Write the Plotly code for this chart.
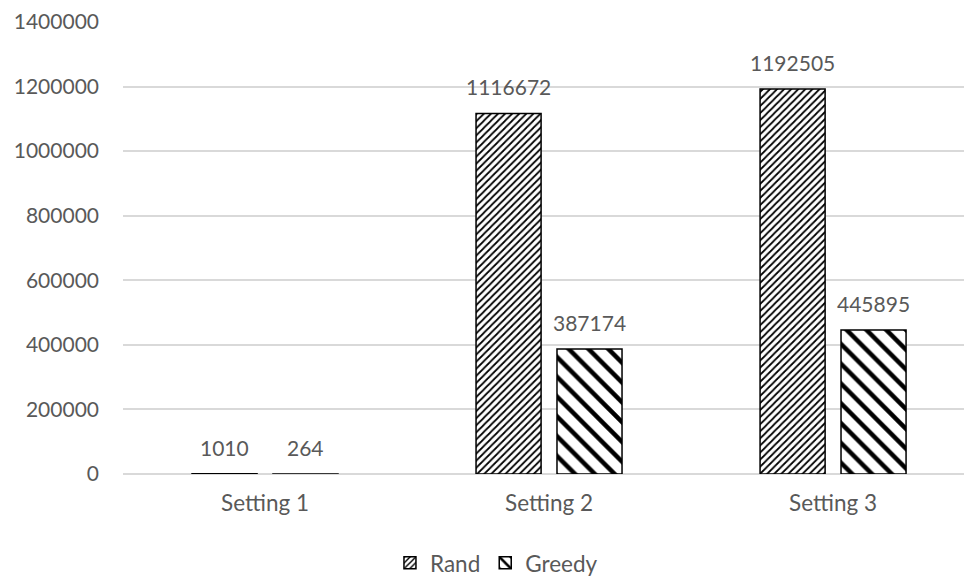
import plotly.graph_objects as go

categories = ["Setting 1", "Setting 2", "Setting 3"]
rand_values = [1010, 1116672, 1192505]
greedy_values = [264, 387174, 445895]
series_names = ["Rand", "Greedy"]
y_ticks = [0, 200000, 400000, 600000, 800000, 1000000, 1200000, 1400000]

FONT = "Lato, Carlito, 'Liberation Sans', sans-serif"
TEXT_GREY = "#595959"
GRID = "#d9d9d9"

BAR_W = 0.229
OFFSETS = [-0.257, 0.028]

fig = go.Figure()

patterns = [
    dict(shape="/", fgcolor="#000000", bgcolor="#ffffff", fgopacity=1,
         fillmode="replace", size=5, solidity=0.35),
    dict(shape="\\", fgcolor="#000000", bgcolor="#ffffff", fgopacity=1,
         fillmode="replace", size=14, solidity=0.32),
]

for name, vals, off, pat in zip(series_names, [rand_values, greedy_values], OFFSETS, patterns):
    fig.add_trace(go.Bar(
        name=name,
        x=categories,
        y=vals,
        width=BAR_W,
        offset=off,
        marker=dict(color="#ffffff", pattern=pat, line=dict(color="black", width=1.5)),
    ))
    # value labels above each bar
    for i, v in enumerate(vals):
        fig.add_annotation(
            x=i + off + BAR_W / 2, y=v, xref="x", yref="y",
            text=str(v), showarrow=False, yanchor="bottom", yshift=12,
            font=dict(family=FONT, size=21, color=TEXT_GREY),
        )

fig.update_layout(
    width=964, height=577,
    margin=dict(l=123, r=0, t=22, b=103),
    paper_bgcolor="white", plot_bgcolor="white",
    barmode="overlay",
    font=dict(family=FONT, size=21, color=TEXT_GREY),
    showlegend=True,
    legend=dict(
        orientation="h", xref="container", yref="container",
        x=0.515, xanchor="center", y=0.024, yanchor="middle",
        font=dict(family=FONT, size=22.5, color=TEXT_GREY),
        itemwidth=30, traceorder="normal",
    ),
    xaxis=dict(
        type="category", range=[-0.5, 2.461],
        showgrid=False, showline=False, ticks="",
        tickfont=dict(family=FONT, size=22.5, color=TEXT_GREY),
        ticklabelstandoff=13,
    ),
    yaxis=dict(
        range=[0, 1400000], tickvals=y_ticks,
        ticktext=[str(t) for t in y_ticks],
        showgrid=True, gridcolor=GRID, gridwidth=1.5,
        zeroline=True, zerolinecolor=GRID, zerolinewidth=1.5,
        showline=False, ticks="",
        tickfont=dict(family=FONT, size=21, color=TEXT_GREY),
        ticklabelstandoff=23,
    ),
)

fig.write_html("out.html")
